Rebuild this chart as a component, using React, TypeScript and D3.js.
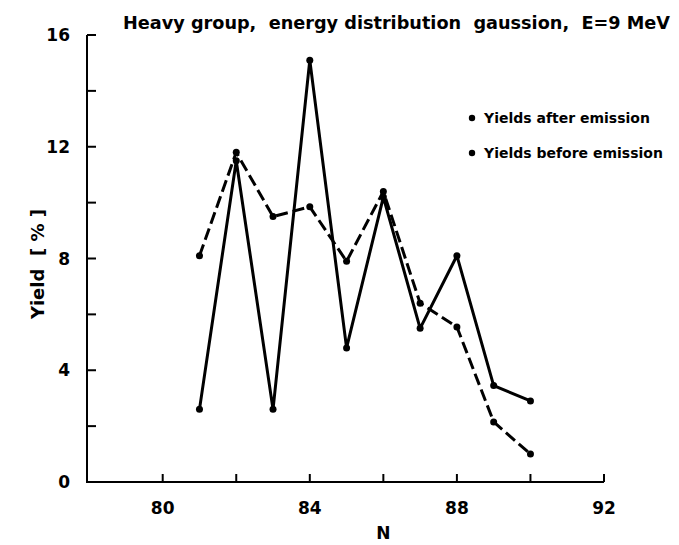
import React from 'react';
import * as d3 from 'd3';

const nValues = [81, 82, 83, 84, 85, 86, 87, 88, 89, 90];
const yieldsAfter = [2.6, 11.5, 2.6, 15.1, 4.8, 10.2, 5.5, 8.1, 3.45, 2.9];
const yieldsBefore = [8.1, 11.8, 9.5, 9.85, 7.9, 10.4, 6.4, 5.55, 2.15, 1.0];
const xTicks = [80, 82, 84, 86, 88, 90, 92];
const xTickLabels = [80, 84, 88, 92];
const yTicks = [0, 2, 4, 6, 8, 10, 12, 14, 16];
const yTickLabels = [0, 4, 8, 12, 16];
const legendLabels = ['Yields after emission', 'Yields before emission'];
const title = 'Heavy group,  energy distribution  gaussion,  E=9 MeV';

const W = 679;
const H = 545;
const font = '"DejaVu Sans", "Liberation Sans", sans-serif';

const App: React.FC = () => {
  const x = d3.scaleLinear().domain([80, 92]).range([162.7, 604]);
  const y = d3.scaleLinear().domain([0, 16]).range([482, 35]);
  const x0 = 87;

  const line = d3
    .line<number>()
    .x((_, i) => x(nValues[i]))
    .y(d => y(d));

  return (
    <div style={{ position: 'absolute', left: 0, top: 0 }}>
      <svg width={W} height={H} viewBox={`0 0 ${W} ${H}`} style={{ display: 'block', background: '#fff' }}>
        <text
          x={123}
          y={29}
          fontFamily={font}
          fontSize={18}
          fontWeight="bold"
          textLength={547}
          lengthAdjust="spacingAndGlyphs"
          style={{ whiteSpace: 'pre' }}
        >
          {title}
        </text>

        {/* axes */}
        <path
          d={`M${x0},${y(16)}V${y(0)}H${x(92)}`}
          fill="none"
          stroke="#000"
          strokeWidth={2}
        />
        {yTicks.map(t => (
          <line key={'yt' + t} x1={x0} x2={x0 + 9} y1={y(t)} y2={y(t)} stroke="#000" strokeWidth={2} />
        ))}
        {xTicks.map(t => (
          <line key={'xt' + t} x1={x(t)} x2={x(t)} y1={y(0)} y2={y(0) - 8} stroke="#000" strokeWidth={2} />
        ))}
        {yTickLabels.map(t => (
          <text
            key={'yl' + t}
            x={70}
            y={y(t) + 6}
            textAnchor="end"
            fontFamily={font}
            fontSize={17}
            fontWeight="bold"
          >
            {t}
          </text>
        ))}
        {xTickLabels.map(t => (
          <text
            key={'xl' + t}
            x={x(t)}
            y={514}
            textAnchor="middle"
            fontFamily={font}
            fontSize={17}
            fontWeight="bold"
          >
            {t}
          </text>
        ))}
        <text x={x(86)} y={539} textAnchor="middle" fontFamily={font} fontSize={17} fontWeight="bold">
          N
        </text>
        <text
          transform={`translate(44,${y(7.8)}) rotate(-90)`}
          textAnchor="middle"
          fontFamily={font}
          fontSize={18}
          fontWeight="bold"
          style={{ whiteSpace: 'pre' }}
        >
          {'Yield  [ % ]'}
        </text>

        {/* series */}
        <path
          d={line(yieldsBefore) || ''}
          fill="none"
          stroke="#000"
          strokeWidth={3}
          strokeDasharray="12,5"
          strokeLinejoin="round"
        />
        <path d={line(yieldsAfter) || ''} fill="none" stroke="#000" strokeWidth={3} strokeLinejoin="round" />
        {yieldsBefore.map((v, i) => (
          <circle key={'b' + i} cx={x(nValues[i])} cy={y(v)} r={3.5} fill="#000" />
        ))}
        {yieldsAfter.map((v, i) => (
          <circle key={'a' + i} cx={x(nValues[i])} cy={y(v)} r={3.5} fill="#000" />
        ))}

        {/* legend */}
        {legendLabels.map((l, i) => (
          <g key={l} transform={`translate(472,${118 + i * 35})`}>
            <circle cx={0} cy={0} r={3.2} fill="#000" />
            <text x={12} y={5} fontFamily={font} fontSize={14} fontWeight="bold">
              {l}
            </text>
          </g>
        ))}
      </svg>
    </div>
  );
};

export default App;
